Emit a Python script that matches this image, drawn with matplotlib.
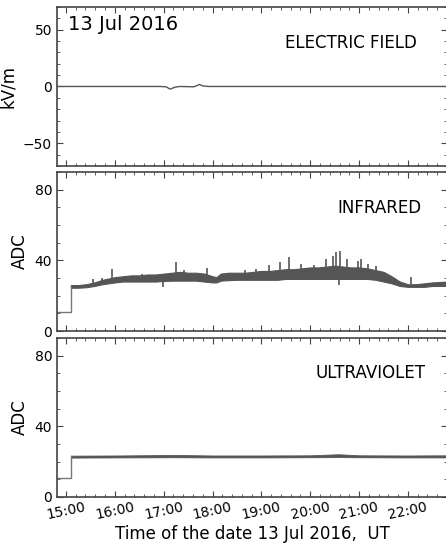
import numpy as np
import pandas as pd
import matplotlib
matplotlib.use("Agg")
import matplotlib.pyplot as plt
import matplotlib.dates as mdates
from matplotlib.ticker import MultipleLocator

DAY = "2016-07-13 "

### Electric field (kV/m)
ef_time = ["14:49", "16:55", "17:03", "17:08", "17:14", "17:20", "17:37", "17:41",
           "17:44", "17:48", "17:55", "22:48"]
ef_val = [0.0, 0.0, -0.3, -2.3, -0.6, 0.0, -0.3, 0.8, 1.8, 0.5, 0.0, 0.0]

### Infrared: level before the sensor step, then envelope of the noisy band
ir_pre_time = ["14:49", "15:06", "15:06"]
ir_pre_val = [11.0, 11.0, 25.0]
ir_time = ["15:06", "15:15", "15:25", "15:35", "15:45", "16:00", "16:10", "16:20",
           "16:30", "16:40", "16:50", "17:00", "17:10", "17:20", "17:30", "17:40",
           "17:50", "18:00", "18:05", "18:10", "18:20", "18:30", "18:40", "18:50",
           "19:00", "19:10", "19:20", "19:30", "19:40", "19:50", "20:00", "20:10",
           "20:20", "20:30", "20:40", "20:50", "21:00", "21:10", "21:20", "21:30",
           "21:40", "21:50", "22:00", "22:10", "22:20", "22:30", "22:48"]
ir_low = [24.5, 24.5, 24.8, 25.5, 26.5, 27.5, 28.0, 28.0, 28.0, 28.0, 28.0, 28.3,
          28.5, 28.5, 28.5, 28.5, 28.0, 27.5, 27.5, 28.5, 28.8, 29.0, 29.0, 29.0,
          29.0, 29.0, 29.0, 29.5, 29.5, 29.5, 29.5, 29.5, 29.5, 29.5, 29.5, 29.5,
          29.5, 29.5, 29.0, 28.0, 27.0, 25.5, 25.0, 25.0, 25.0, 25.5, 25.5]
ir_high = [26.0, 26.0, 26.5, 27.5, 29.0, 30.5, 31.0, 31.5, 31.5, 32.0, 32.0, 32.5,
           33.0, 33.5, 33.0, 33.0, 32.5, 31.0, 30.5, 32.5, 33.0, 33.0, 33.0, 33.5,
           34.0, 34.0, 34.5, 35.0, 35.0, 35.5, 36.0, 36.0, 36.5, 37.0, 36.5, 36.0,
           36.0, 35.5, 34.5, 33.5, 31.0, 28.0, 26.5, 26.5, 27.0, 27.5, 28.0]
ir_spike_time = ["15:33", "15:44", "15:57", "16:33", "16:59", "17:15", "17:25", "17:53",
                 "18:40", "18:54", "19:10", "19:23", "19:34", "19:49", "20:05", "20:20",
                 "20:28", "20:32", "20:35", "20:37", "20:45", "20:59", "21:03", "21:11",
                 "21:21", "22:04"]
ir_spike_val = [29.3, 30.0, 34.9, 32.2, 25.0, 38.9, 34.5, 35.4,
                34.5, 35.2, 37.3, 38.9, 41.7, 37.9, 37.3, 40.7,
                42.6, 44.5, 26.0, 45.5, 40.7, 39.8, 40.7, 37.9,
                36.9, 30.3]
ir_spike_base = [26.0, 27.5, 30.0, 30.0, 29.0, 31.0, 31.0, 30.0,
                 31.0, 31.0, 32.0, 32.0, 32.0, 33.0, 33.0, 33.0,
                 33.0, 33.0, 30.0, 33.0, 33.0, 33.0, 33.0, 33.0,
                 32.0, 26.5]

### Ultraviolet
uv_pre_time = ["14:49", "15:06", "15:06"]
uv_pre_val = [10.5, 10.5, 23.0]
uv_time = ["15:06", "16:00", "17:15", "18:00", "19:00", "20:00", "20:35", "21:00",
           "22:00", "22:48"]
uv_low = [22.3, 22.4, 22.5, 22.4, 22.4, 22.5, 22.6, 22.5, 22.4, 22.4]
uv_high = [23.4, 23.5, 23.8, 23.5, 23.5, 23.6, 24.2, 23.6, 23.5, 23.6]


def tt(lst):
    return pd.to_datetime([DAY + s for s in lst])


grey = '#555555'
spine = '#444444'

fig = plt.figure(figsize=(4.46, 5.44), dpi=100)
left, width, height = 0.1278, 0.8744, 0.2923
ax1 = fig.add_axes([left, 0.6949, width, height])
ax2 = fig.add_axes([left, 0.3915, width, height])
ax3 = fig.add_axes([left, 0.0864, width, height])

ax1.plot(tt(ef_time), ef_val, color=grey, lw=1.0)

ax2.plot(tt(ir_pre_time), ir_pre_val, color='#777777', lw=1.0)
ax2.fill_between(tt(ir_time), ir_low, ir_high, color=grey, lw=0.8, edgecolor=grey)
ax2.vlines(tt(ir_spike_time), ir_spike_base, ir_spike_val, color=grey, lw=1.2)

ax3.plot(tt(uv_pre_time), uv_pre_val, color='#777777', lw=1.0)
ax3.fill_between(tt(uv_time), uv_low, uv_high, color=grey, lw=0.6, edgecolor=grey)

xmin, xmax = pd.Timestamp(DAY + "14:49"), pd.Timestamp(DAY + "22:48")
for ax in (ax1, ax2, ax3):
    ax.set_xlim(xmin, xmax)
    ax.xaxis.set_major_locator(mdates.HourLocator())
    ax.xaxis.set_minor_locator(mdates.MinuteLocator(byminute=[12, 24, 36, 48]))
    ax.xaxis.set_major_formatter(mdates.DateFormatter('%H:%M'))
    ax.yaxis.set_minor_locator(MultipleLocator(10))
    ax.tick_params(which='both', direction='in', top=True, right=True,
                   color=spine, labelsize=10)
    ax.tick_params(which='major', length=4)
    ax.tick_params(which='minor', length=2)
    for s in ax.spines.values():
        s.set_color(spine)
        s.set_linewidth(1.2)

ax1.set_ylim(-70, 70)
ax1.set_yticks([-50, 0, 50])
ax1.tick_params(labelbottom=False)
ax1.set_ylabel("kV/m", fontsize=12)
ax1.text(0.028, 0.855, "13 Jul 2016", transform=ax1.transAxes, fontsize=14)
ax1.text(0.923, 0.742, "ELECTRIC FIELD", transform=ax1.transAxes, fontsize=12, ha='right')

ax2.set_ylim(0, 90)
ax2.set_yticks([0, 40, 80])
ax2.tick_params(labelbottom=False)
ax2.set_ylabel("ADC", fontsize=12)
ax2.text(0.935, 0.744, "INFRARED", transform=ax2.transAxes, fontsize=12, ha='right')

ax3.set_ylim(0, 90)
ax3.set_yticks([0, 40, 80])
ax3.set_ylabel("ADC", fontsize=12)
ax3.text(0.944, 0.75, "ULTRAVIOLET", transform=ax3.transAxes, fontsize=12, ha='right')
ax3.tick_params(axis='x', which='major', pad=2)
for lab in ax3.get_xticklabels():
    lab.set_rotation(12)
    lab.set_ha('center')
ax3.set_xlabel("Time of the date 13 Jul 2016,  UT", fontsize=12)
ax3.xaxis.set_label_coords(0.5, -0.175)

fig.savefig("out.png", dpi=100)
